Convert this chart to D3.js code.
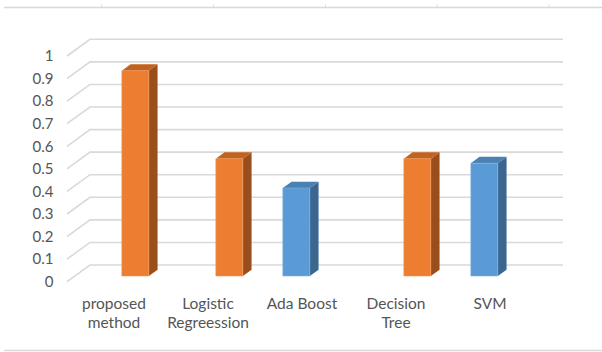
<!DOCTYPE html>
<html>
<head>
<meta charset="utf-8">
<script src="https://cdn.jsdelivr.net/npm/d3@7/dist/d3.min.js"></script>
<style>
  html, body { margin: 0; padding: 0; background: #ffffff; }
  svg { display: block; }
</style>
</head>
<body>
<svg id="chart" width="602" height="352"></svg>
<script>
// Accuracy per classifier, split into two colour series
const categories = [["proposed", "method"], ["Logistic", "Regreession"], ["Ada Boost"], ["Decision", "Tree"], ["SVM"]];
const categoryKeys = ["proposed method", "Logistic Regreession", "Ada Boost", "Decision Tree", "SVM"];
const seriesNames = ["blue", "orange"];
const orangeValues = [0.91, 0.52, null, 0.52, null];
const blueValues = [null, null, 0.39, null, 0.50];
const yTicks = [0, 0.1, 0.2, 0.3, 0.4, 0.5, 0.6, 0.7, 0.8, 0.9, 1];

const palette = {
  orange: { front: "#ED7D31", side: "#9A4E1C", top: "#C2621F", edge: "#F29A5E" },
  blue:   { front: "#5B9BD5", side: "#3A6690", top: "#4A80B2", edge: "#7FB1DF" }
};

const svg = d3.select("#chart");

// Front plane of the 3D box and the depth offset to the back wall
const X0 = 67, X1 = 537, WALL_END = 540;
const DX = 23, DY = 16.7;
const y = d3.scaleLinear().domain([0, 1]).range([281.7, 56]);
const x = d3.scaleBand().domain(categoryKeys).range([X0, X1])
  .paddingInner(0.4255).paddingOuter(0.2128);
const xSub = d3.scaleBand().domain(seriesNames).range([0, x.bandwidth()]);

// project (front-plane x, value, depth 0..1) to screen
const P = (px, v, d) => [px + DX * d, y(v) - DY * d];

// Frame lines at top and bottom
const frame = svg.append("g").attr("stroke", "#D9D9D9").attr("stroke-width", 1.5);
frame.append("line").attr("x1", 4).attr("x2", 602).attr("y1", 7.5).attr("y2", 7.5);
frame.append("line").attr("x1", 4).attr("x2", 602).attr("y1", 350.5).attr("y2", 350.5);
[101.7, 213.4, 325.5, 437.2, 549].forEach(tx => {
  frame.append("line").attr("x1", tx).attr("x2", tx).attr("y1", 4.5).attr("y2", 7.5)
    .attr("stroke-width", 1);
});

// Gridlines: side-wall diagonal plus back-wall horizontal
const grid = svg.append("g").attr("fill", "none").attr("stroke", "#D9D9D9").attr("stroke-width", 1.6);
yTicks.forEach(v => {
  const a = P(X0, v, 0), b = P(X0, v, 1), c = P(WALL_END, v, 1);
  grid.append("path").attr("d", d3.line()([a, b, c]));
});

// Y axis labels
const yAxis = d3.axisLeft(y).tickValues(yTicks).tickSize(0).tickPadding(0)
  .tickFormat(d3.format("~g"));
const yg = svg.append("g").attr("transform", "translate(53.5,0)").call(yAxis);
yg.select(".domain").remove();
yg.selectAll("text")
  .attr("font-family", "Lato, 'Open Sans', sans-serif")
  .attr("font-size", 15)
  .attr("fill", "#555555");

// 3D bars
const D1 = 0.34, D2 = 0.72;
const bars = [];
categoryKeys.forEach((k, i) => {
  if (blueValues[i] != null) bars.push({ k, s: "blue", v: blueValues[i] });
  if (orangeValues[i] != null) bars.push({ k, s: "orange", v: orangeValues[i] });
});
const poly = pts => "M" + pts.map(p => p.join(",")).join("L") + "Z";
const barG = svg.append("g").selectAll("g").data(bars).join("g");
barG.each(function (b) {
  const g = d3.select(this);
  const c = palette[b.s];
  const xa = x(b.k) + xSub(b.s), xb = xa + xSub.bandwidth();
  g.append("path").attr("fill", c.side)
    .attr("d", poly([P(xb, 0, D1), P(xb, 0, D2), P(xb, b.v, D2), P(xb, b.v, D1)]));
  g.append("path").attr("fill", c.top)
    .attr("d", poly([P(xa, b.v, D1), P(xb, b.v, D1), P(xb, b.v, D2), P(xa, b.v, D2)]));
  g.append("path").attr("fill", c.front).attr("stroke", c.edge).attr("stroke-width", 0.6)
    .attr("d", poly([P(xa, 0, D1), P(xb, 0, D1), P(xb, b.v, D1), P(xa, b.v, D1)]));
});

// Category labels
const xl = svg.append("g")
  .attr("font-family", "Lato, 'Open Sans', sans-serif")
  .attr("font-size", 15.5)
  .attr("fill", "#555555")
  .attr("text-anchor", "middle");
categoryKeys.forEach((k, i) => {
  const cx = x(k) + x.bandwidth() / 2;
  categories[i].forEach((line, j) => {
    xl.append("text").attr("x", cx).attr("y", 302.7 + 19 * j)
      .attr("dominant-baseline", "central").text(line);
  });
});
</script>
</body>
</html>
